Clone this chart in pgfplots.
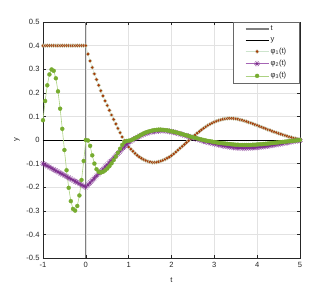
\documentclass[border=0pt]{standalone}
\usepackage{pgfplots}
\pgfplotsset{compat=1.18}
\usepackage{pgfplotstable}
\usepackage{fontspec}
\setmainfont{Liberation Sans}
\usetikzlibrary{plotmarks}
\definecolor{axgray}{RGB}{38,38,38}
\definecolor{gridgray}{RGB}{226,226,226}
\definecolor{mora}{RGB}{165,58,5}
\definecolor{halo}{RGB}{205,228,205}
\definecolor{mpur}{RGB}{126,47,142}
\definecolor{mpurl}{RGB}{165,100,180}
\definecolor{mgrn}{RGB}{119,172,48}
\definecolor{mgrnl}{RGB}{172,210,130}
\pgfplotstableread{
t p1 p2 p3
-1.00 0.400 -0.100 0.0838
-0.95 0.400 -0.105 0.1652
-0.90 0.400 -0.110 0.2318
-0.85 0.400 -0.115 0.2777
-0.80 0.400 -0.120 0.2989
-0.75 0.400 -0.125 0.2933
-0.70 0.400 -0.130 0.2615
-0.65 0.400 -0.135 0.2063
-0.60 0.400 -0.140 0.1328
-0.55 0.400 -0.145 0.0473
-0.50 0.400 -0.150 -0.0423
-0.45 0.400 -0.155 -0.1282
-0.40 0.400 -0.160 -0.2026
-0.35 0.400 -0.165 -0.2590
-0.30 0.400 -0.170 -0.2921
-0.25 0.400 -0.175 -0.2992
-0.20 0.400 -0.180 -0.2796
-0.15 0.400 -0.185 -0.2350
-0.10 0.400 -0.190 -0.1694
-0.05 0.400 -0.195 -0.0887
0.00 0.400 -0.200 0.000
0.05 0.364 -0.190 -0.002
0.10 0.335 -0.181 -0.025
0.15 0.307 -0.171 -0.065
0.20 0.280 -0.162 -0.100
0.25 0.256 -0.152 -0.124
0.30 0.232 -0.143 -0.135
0.35 0.209 -0.133 -0.138
0.40 0.187 -0.124 -0.135
0.45 0.166 -0.114 -0.129
0.50 0.146 -0.105 -0.121
0.55 0.126 -0.095 -0.111
0.60 0.106 -0.086 -0.099
0.65 0.087 -0.076 -0.085
0.70 0.068 -0.067 -0.070
0.75 0.049 -0.057 -0.054
0.80 0.031 -0.048 -0.037
0.85 0.013 -0.038 -0.021
0.90 -0.003 -0.029 -0.009
0.95 -0.017 -0.020 -0.004
1.00 -0.030 -0.012 -0.003
1.05 -0.039 -0.005 -0.001
1.10 -0.048 0.001 0.003
1.15 -0.057 0.006 0.008
1.20 -0.065 0.011 0.013
1.25 -0.072 0.016 0.018
1.30 -0.078 0.020 0.023
1.35 -0.083 0.024 0.028
1.40 -0.087 0.027 0.032
1.45 -0.091 0.030 0.035
1.50 -0.093 0.033 0.038
1.55 -0.095 0.035 0.040
1.60 -0.095 0.037 0.042
1.65 -0.094 0.038 0.043
1.70 -0.092 0.039 0.044
1.75 -0.089 0.040 0.044
1.80 -0.086 0.040 0.043
1.85 -0.082 0.039 0.042
1.90 -0.077 0.038 0.041
1.95 -0.072 0.037 0.039
2.00 -0.066 0.035 0.037
2.05 -0.059 0.033 0.035
2.10 -0.051 0.031 0.033
2.15 -0.043 0.028 0.030
2.20 -0.035 0.026 0.028
2.25 -0.027 0.023 0.025
2.30 -0.019 0.020 0.022
2.35 -0.011 0.018 0.020
2.40 -0.003 0.015 0.017
2.45 0.005 0.012 0.014
2.50 0.013 0.009 0.012
2.55 0.021 0.006 0.009
2.60 0.029 0.004 0.007
2.65 0.036 0.001 0.004
2.70 0.043 -0.002 0.002
2.75 0.050 -0.005 0.000
2.80 0.056 -0.007 -0.002
2.85 0.062 -0.010 -0.004
2.90 0.067 -0.012 -0.005
2.95 0.072 -0.014 -0.007
3.00 0.076 -0.016 -0.009
3.05 0.080 -0.018 -0.010
3.10 0.083 -0.020 -0.012
3.15 0.086 -0.022 -0.013
3.20 0.088 -0.024 -0.014
3.25 0.090 -0.026 -0.015
3.30 0.091 -0.027 -0.016
3.35 0.092 -0.029 -0.017
3.40 0.092 -0.030 -0.018
3.45 0.091 -0.031 -0.019
3.50 0.090 -0.032 -0.020
3.55 0.088 -0.033 -0.020
3.60 0.086 -0.033 -0.021
3.65 0.084 -0.034 -0.021
3.70 0.081 -0.034 -0.021
3.75 0.078 -0.034 -0.021
3.80 0.075 -0.033 -0.021
3.85 0.072 -0.033 -0.021
3.90 0.069 -0.032 -0.020
3.95 0.065 -0.032 -0.020
4.00 0.062 -0.031 -0.019
4.05 0.058 -0.030 -0.018
4.10 0.055 -0.029 -0.018
4.15 0.051 -0.028 -0.017
4.20 0.048 -0.027 -0.016
4.25 0.044 -0.025 -0.015
4.30 0.041 -0.024 -0.014
4.35 0.037 -0.022 -0.013
4.40 0.034 -0.021 -0.012
4.45 0.031 -0.019 -0.011
4.50 0.028 -0.018 -0.010
4.55 0.025 -0.016 -0.009
4.60 0.022 -0.014 -0.008
4.65 0.019 -0.012 -0.007
4.70 0.016 -0.011 -0.006
4.75 0.013 -0.009 -0.005
4.80 0.011 -0.007 -0.004
4.85 0.008 -0.006 -0.003
4.90 0.006 -0.004 -0.002
4.95 0.004 -0.003 -0.001
5.00 0.002 -0.002 0.000
}\data
\begin{document}
\begin{tikzpicture}
\useasboundingbox (-43bp,-33bp) rectangle (289bp,258bp);
\begin{axis}[
  scale only axis, width=257bp, height=236bp,
  xmin=-1, xmax=5, ymin=-0.5, ymax=0.5,
  xtick={-1,0,1,2,3,4,5},
  ytick={-0.5,-0.4,-0.3,-0.2,-0.1,0,0.1,0.2,0.3,0.4,0.5},
  yticklabels={-0.5,-0.4,-0.3,-0.2,-0.1,0,0.1,0.2,0.3,0.4,0.5},
  xticklabels={-1,0,1,2,3,4,5},
  /pgf/number format/assume math mode=true,
  tick label style={font=\fontsize{7.6}{9}\selectfont, text=axgray},
  xticklabel style={yshift=-1bp},
  major tick length=3bp,
  tick align=inside,
  tick style={axgray, line width=0.5bp},
  axis line style={axgray, line width=0.6bp},
  grid=major,
  major grid style={gridgray, line width=0.5bp},
  every axis x label/.style={at={(axis description cs:0.5,0)}, anchor=center, yshift=-22bp, font=\fontsize{7.6}{9}\selectfont, text=axgray},
  every axis y label/.style={at={(axis description cs:0,0.5)}, anchor=center, xshift=-26bp, rotate=90, font=\fontsize{7.6}{9}\selectfont, text=axgray},
  xlabel={t}, ylabel={y},
  legend cell align=left,
  legend image code/.code={\draw[mark repeat=2,mark phase=2,#1] plot coordinates {(0bp,0bp) (11.5bp,0bp) (23bp,0bp)};},
  legend style={at={(1,1)}, anchor=north east, draw=axgray!70, line width=0.5bp,
    font=\fontsize{7.6}{9}\selectfont, text=axgray, inner xsep=12bp, inner ysep=2bp,
    row sep=2.2bp, nodes={inner sep=1.5bp}},
]
\addplot[gray, line width=1.3bp] coordinates {(0,-0.5) (0,0.5)};
\addlegendentry{t}
\addplot[black, line width=0.8bp] coordinates {(-1,0) (5,0)};
\addlegendentry{y}
\addplot[halo, line width=0.4bp, mark=*, mark size=1.9bp, mark options={fill=mora, draw=halo, line width=0.3bp}] table[x=t, y=p1] {\data};
\addlegendentry{φ\textsubscript{1}(t)}
\addplot[mpurl, line width=0.6bp, mark=10-pointed star, mark size=3bp, mark options={fill=mpur, draw=mpur, line width=0.3bp}] table[x=t, y=p2] {\data};
\addlegendentry{φ\textsubscript{2}(t)}
\addplot[mgrnl, line width=0.6bp, mark=*, mark size=2bp, mark options={fill=mgrn, draw=mgrn, line width=0.3bp}] table[x=t, y=p3] {\data};
\addlegendentry{φ\textsubscript{3}(t)}
\end{axis}
\end{tikzpicture}
\end{document}
